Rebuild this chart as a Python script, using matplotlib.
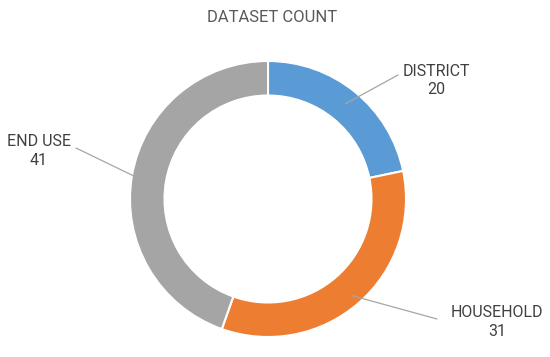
import numpy as np
import matplotlib
matplotlib.use("Agg")
import matplotlib.pyplot as plt

categories = ["DISTRICT", "HOUSEHOLD", "END USE"]
counts = [20, 31, 41]
colors = ["#5B9BD5", "#ED7D31", "#A5A5A5"]

plt.rcParams["font.family"] = ["Roboto", "DejaVu Sans"]

W, H = 550, 357
fig = plt.figure(figsize=(5.5, 3.57), dpi=100)
ax = fig.add_axes([130 / W, 1 - 337 / H, 276 / W, 276 / H])

wedges, _ = ax.pie(counts, colors=colors, startangle=90, counterclock=False,
                   radius=1.0, wedgeprops=dict(width=0.25, edgecolor="white", linewidth=1.5))
ax.set_xlim(-1, 1)
ax.set_ylim(-1, 1)
ax.set_aspect("equal")
ax.axis("off")

fig.text(272 / W, 1 - 17 / H, "DATASET COUNT", ha="center", va="center",
         fontsize=12, color="#595959")

# label layout in pixels: (text centre, line end, line start radius)
layout = [((436, 80.5), (398, 75), 0.89),
          ((497, 322), (437, 319), 0.93),
          ((39, 151), (76, 148), 0.99)]

total = sum(counts)
start = 90.0
for cat, val, (txt, end, r) in zip(categories, counts, layout):
    span = val / total * 360
    mid = np.deg2rad(start - span / 2)
    start -= span
    ax.annotate("", xy=(r * np.cos(mid), r * np.sin(mid)), xycoords="data",
                xytext=(end[0] / W, 1 - end[1] / H), textcoords="figure fraction",
                arrowprops=dict(arrowstyle="-", color="#A6A6A6", lw=0.9,
                                shrinkA=0, shrinkB=0))
    fig.text(txt[0] / W, 1 - txt[1] / H, f"{cat}\n{val}", ha="center", va="center",
             multialignment="center", fontsize=11.5, color="#404040",
             linespacing=1.3)

fig.savefig("out.png", dpi=100)
